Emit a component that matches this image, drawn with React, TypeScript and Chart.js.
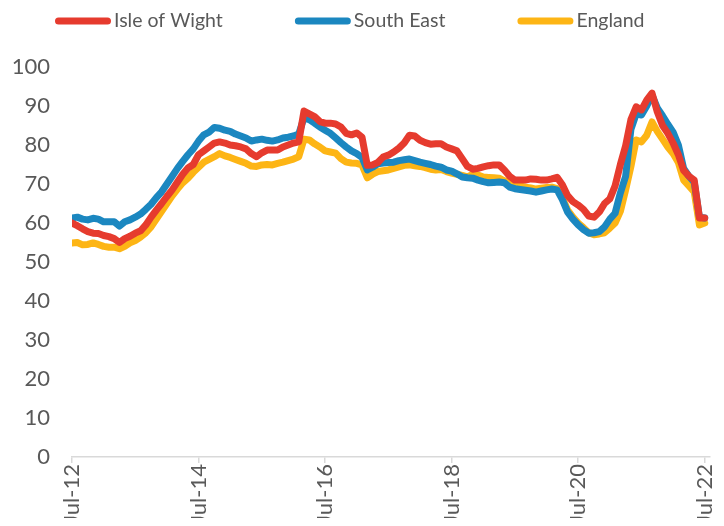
import React, { useEffect, useRef } from "react";
import { Chart, registerables } from "chart.js";

Chart.register(...registerables);

// Monthly categories Jul-12 .. Jul-22
const monthNames = ["Jan", "Feb", "Mar", "Apr", "May", "Jun", "Jul", "Aug", "Sep", "Oct", "Nov", "Dec"];
const categories: string[] = [];
for (let i = 0; i <= 120; i++) {
  const mi = (6 + i) % 12;
  const yr = 12 + Math.floor((6 + i) / 12);
  categories.push(`${monthNames[mi]}-${yr}`);
}

const xTickIndexes = [0, 24, 48, 72, 96, 120];

const isleOfWight = [
  60.0, 59.3, 58.5, 57.8, 57.4, 57.3, 56.8, 56.5, 56.0, 55.0,
  56.0, 56.6, 57.4, 58.0, 59.5, 61.5, 63.3, 65.0, 66.8, 68.5,
  70.5, 72.5, 74.1, 75.0, 77.5, 78.5, 79.5, 80.5, 80.8, 80.5,
  80.0, 79.8, 79.5, 79.0, 77.8, 77.0, 78.0, 78.7, 78.7, 78.7,
  79.5, 80.0, 80.5, 80.8, 88.7, 88.0, 87.3, 86.0, 85.6, 85.6,
  85.4, 84.6, 83.0, 82.6, 83.1, 82.0, 74.8, 74.9, 75.5, 76.9,
  77.4, 78.2, 79.2, 80.5, 82.5, 82.3, 81.2, 80.6, 80.2, 80.3,
  80.3, 79.5, 79.0, 78.5, 76.5, 74.5, 73.8, 74.0, 74.4, 74.7,
  74.9, 74.9, 73.6, 72.0, 71.0, 71.0, 71.0, 71.3, 71.2, 71.0,
  71.0, 71.3, 71.7, 69.8, 67.0, 65.5, 64.6, 63.5, 61.8, 61.5,
  62.8, 65.0, 66.2, 69.5, 75.0, 79.8, 86.5, 89.8, 89.0, 91.5,
  93.3, 88.5, 85.0, 83.0, 80.5, 77.5, 73.5, 72.0, 71.0, 61.3, 61.3,
];

const southEast = [
  61.3, 61.5, 61.0, 60.8, 61.2, 61.0, 60.3, 60.3, 60.3, 59.2,
  60.3, 60.8, 61.5, 62.3, 63.5, 64.8, 66.5, 68.0, 70.0, 72.0,
  74.0, 75.8, 77.5, 79.0, 81.0, 82.6, 83.3, 84.5, 84.3, 83.8,
  83.5, 82.8, 82.3, 81.8, 81.0, 81.3, 81.5, 81.2, 81.0, 81.3,
  81.8, 82.0, 82.3, 82.8, 87.0, 86.5, 85.6, 84.6, 83.8, 83.0,
  81.8, 80.6, 79.5, 78.5, 77.8, 76.8, 73.6, 74.3, 75.2, 75.4,
  75.5, 75.6, 76.0, 76.2, 76.4, 76.0, 75.6, 75.3, 75.0, 74.6,
  74.3, 73.6, 73.3, 72.6, 71.8, 71.6, 71.5, 71.0, 70.6, 70.3,
  70.4, 70.5, 70.3, 69.2, 68.8, 68.6, 68.4, 68.2, 67.9, 68.2,
  68.5, 68.7, 68.5, 66.0, 62.8, 61.0, 59.5, 58.3, 57.4, 57.5,
  57.8, 59.0, 61.0, 62.5, 67.7, 72.0, 84.0, 88.0, 87.7, 90.0,
  92.8, 89.5, 87.5, 85.3, 83.3, 80.0, 74.0, 72.0, 70.5, 61.5, 61.3,
];

const england = [
  54.9, 55.0, 54.4, 54.5, 54.9, 54.5, 54.0, 53.8, 53.8, 53.4,
  54.0, 54.9, 55.5, 56.4, 57.5, 59.0, 61.0, 63.0, 65.0, 67.0,
  68.7, 70.3, 71.5, 73.0, 74.3, 75.6, 76.3, 77.0, 77.8, 77.2,
  76.8, 76.3, 75.8, 75.3, 74.6, 74.5, 74.9, 75.0, 74.9, 75.3,
  75.6, 76.0, 76.4, 77.0, 81.5, 81.3, 80.3, 79.5, 78.5, 78.2,
  77.9, 76.5, 75.6, 75.4, 75.3, 74.9, 71.6, 72.5, 73.2, 73.4,
  73.6, 74.0, 74.4, 74.8, 74.9, 74.7, 74.5, 74.2, 73.8, 73.6,
  73.7, 73.2, 72.8, 72.5, 72.2, 71.8, 72.5, 72.3, 71.8, 71.7,
  71.6, 71.5, 70.8, 70.3, 69.9, 69.5, 69.2, 69.0, 68.7, 68.9,
  69.1, 69.2, 68.8, 66.5, 63.3, 61.5, 60.0, 58.8, 57.5, 57.0,
  57.2, 57.5, 58.7, 60.0, 63.0, 68.5, 74.5, 81.3, 80.8, 82.5,
  85.9, 83.5, 81.5, 79.5, 77.8, 75.5, 71.0, 69.5, 68.0, 59.5, 60.0,
];

const seriesNames = ["Isle of Wight", "South East", "England"];
const seriesColors = ["#E63B2E", "#1B87C0", "#FDB515"];

const FONT = "Lato";
const FONT_SIZE = 22;
const LEGEND_FONT_SIZE = 19.5;
const TEXT_COLOR = "#595959";

const legendPlugin = {
  id: "customLegend",
  afterDraw(chart: any) {
    const ctx = chart.ctx as CanvasRenderingContext2D;
    ctx.save();
    ctx.font = `${LEGEND_FONT_SIZE}px ${FONT}`;
    ctx.textBaseline = "middle";
    ctx.textAlign = "left";
    const y = 13;
    let x = 47;
    chart.data.datasets.forEach((ds: any) => {
      ctx.fillStyle = ds.borderColor;
      ctx.beginPath();
      (ctx as any).roundRect(x, y - 3.5, 56, 7, 3.5);
      ctx.fill();
      x += 56 + 3;
      ctx.fillStyle = TEXT_COLOR;
      ctx.fillText(ds.label, x, y);
      x += ctx.measureText(ds.label).width + 72;
    });
    ctx.restore();
  },
};

export default function App() {
  const ref = useRef<HTMLCanvasElement | null>(null);

  useEffect(() => {
    if (!ref.current) return;
    const seriesData = [isleOfWight, southEast, england];
    const chart = new Chart(ref.current, {
      type: "line",
      data: {
        datasets: seriesData.map((arr, k) => ({
          label: seriesNames[k],
          data: arr.map((v, i) => ({ x: i, y: v })),
          borderColor: seriesColors[k],
          backgroundColor: seriesColors[k],
          borderWidth: 7,
          pointRadius: 0,
          tension: 0,
          borderJoinStyle: "round" as const,
          borderCapStyle: "round" as const,
          fill: false,
        })),
      },
      options: {
        animation: false,
        responsive: false,
        maintainAspectRatio: false,
        layout: { padding: { top: 59, right: 6, left: 0, bottom: 0 } },
        plugins: {
          legend: { display: false },
          tooltip: { enabled: false },
        },
        scales: {
          x: {
            type: "linear",
            min: 0,
            max: 121,
            afterBuildTicks: (s: any) => {
              s.ticks = xTickIndexes.map((v) => ({ value: v }));
            },
            afterFit: (s: any) => {
              s.height = 69;
              s.paddingLeft = 0;
              s.paddingRight = 0;
            },
            grid: {
              drawOnChartArea: false,
              drawTicks: true,
              tickLength: 6,
              color: "#D9D9D9",
              lineWidth: 1.5,
            },
            border: { color: "#D9D9D9", width: 1.5 },
            ticks: {
              autoSkip: false,
              minRotation: 90,
              maxRotation: 90,
              padding: 1,
              color: TEXT_COLOR,
              font: { family: FONT, size: FONT_SIZE },
              callback: (v: any) => categories[Math.round(Number(v))] ?? "",
            },
          },
          y: {
            min: 0,
            max: 100,
            afterFit: (s: any) => {
              s.width = 64;
              s.paddingTop = 0;
              s.paddingBottom = 0;
            },
            grid: { display: false, drawTicks: false },
            border: { display: false },
            ticks: {
              stepSize: 10,
              padding: 22,
              color: TEXT_COLOR,
              font: { family: FONT, size: FONT_SIZE },
            },
          },
        },
      },
      plugins: [legendPlugin],
    });
    return () => chart.destroy();
  }, []);

  return (
    <div style={{ width: 708, height: 518, marginBottom: -8 }}>
      <canvas ref={ref} width={708} height={518} style={{ display: "block" }} />
    </div>
  );
}
